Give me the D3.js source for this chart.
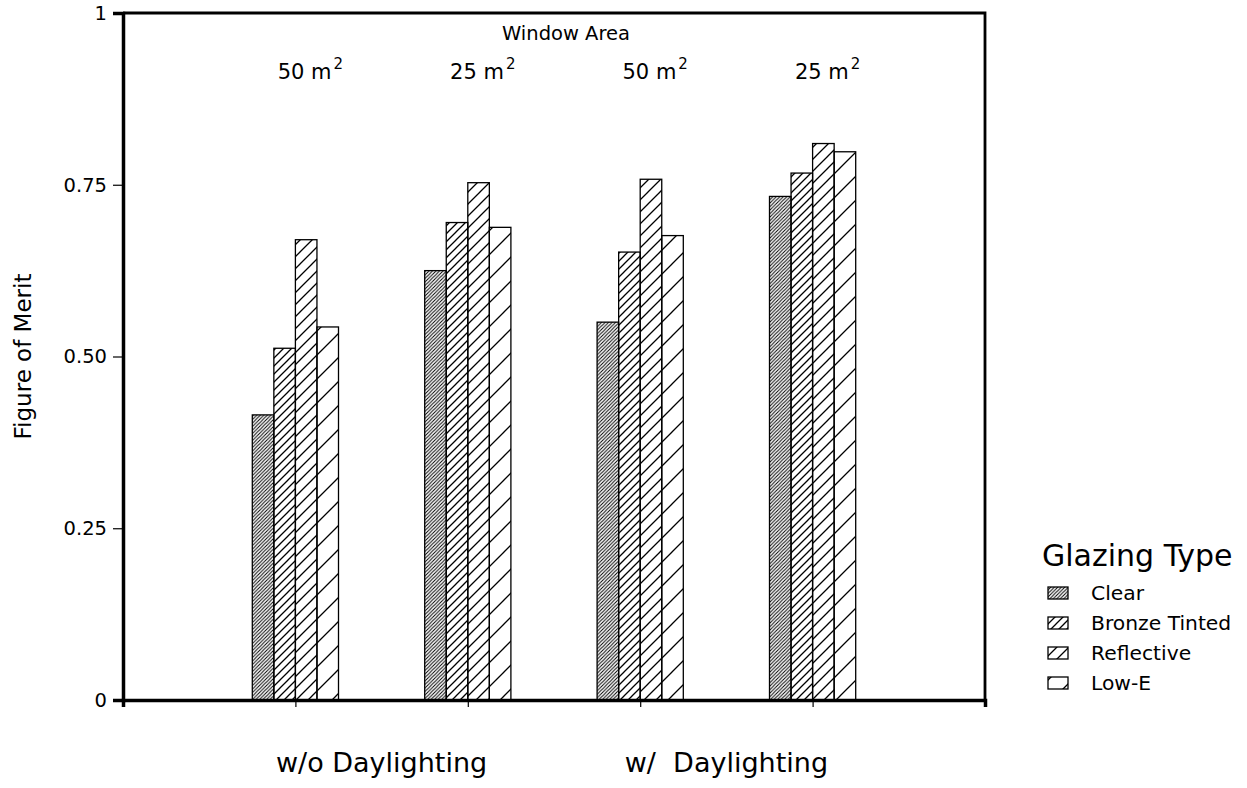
<!DOCTYPE html>
<html>
<head>
<meta charset="utf-8">
<script src="https://cdn.jsdelivr.net/npm/d3@7"></script>
<style>
  body { margin: 0; background: #fff; }
  svg { font-family: "DejaVu Sans", sans-serif; }
</style>
</head>
<body>
<script>
// data
const glazing = ["Clear", "Bronze Tinted", "Reflective", "Low-E"];
const windowArea = ["50", "25", "50", "25"];
const daylighting = ["w/o Daylighting", "w/  Daylighting"];
const clear = [0.415, 0.625, 0.550, 0.733];
const bronze = [0.512, 0.695, 0.652, 0.767];
const reflective = [0.670, 0.753, 0.758, 0.810];
const lowE = [0.543, 0.688, 0.676, 0.798];
const yTicks = [0, 0.25, 0.5, 0.75, 1];

const w = 1247;
const h = 788;
const padL = 123, padR = 985, padT = 13, padB = 700;

const series = [clear, bronze, reflective, lowE];
const spacing = [3.5, 8, 12, 24];

const svg = d3.select("body")
              .append("svg")
              .attr("width", w)
              .attr("height", h);

// hatch patterns
const defs = svg.append("defs");
spacing.forEach((s, i) => {
  defs.append("pattern")
      .attr("id", "hatch" + i)
      .attr("patternUnits", "userSpaceOnUse")
      .attr("width", s)
      .attr("height", s)
      .append("path")
      .attr("d", "M0," + s + " L" + s + ",0 M" + (-1) + ",1 L1,-1 M" + (s - 1) + "," + (s + 1) + " L" + (s + 1) + "," + (s - 1))
      .attr("stroke", "#000")
      .attr("stroke-width", i == 0 ? 1 : 1.3);
});

const xScale = d3.scaleLinear()
                 .domain([0, 5])
                 .range([padL, padR]);

const inner = d3.scaleBand()
                .domain(glazing)
                .range([-0.25, 0.25]);

const yScale = d3.scaleLinear()
                 .domain([0, 1])
                 .range([padB, padT]);

// bars
const bars = [];
windowArea.forEach((a, g) => {
  glazing.forEach((t, k) => bars.push({g: g, k: k, type: t, v: series[k][g]}));
});

svg.append("g")
   .selectAll("rect")
   .data(bars)
   .enter()
   .append("rect")
   .attr("x", d => xScale(d.g + 1 + inner(d.type)))
   .attr("y", d => yScale(d.v))
   .attr("width", xScale(inner.bandwidth()) - xScale(0))
   .attr("height", d => yScale(0) - yScale(d.v))
   .attr("fill", d => "url(#hatch" + d.k + ")")
   .attr("stroke", "#000")
   .attr("stroke-width", 1.3);

// frame
svg.append("path")
   .attr("d", "M" + padL + "," + padT + " H" + padR + " V" + padB)
   .attr("fill", "none")
   .attr("stroke", "#000")
   .attr("stroke-width", 2.8);

// axes
const yAxis = d3.axisLeft(yScale)
                .tickValues(yTicks)
                .tickSize(10)
                .tickPadding(6)
                .tickFormat(d => (d == 0 || d == 1) ? d3.format("d")(d) : d3.format(".2f")(d));

const xAxis = d3.axisBottom(xScale)
                .tickValues([1, 2, 3, 4])
                .tickSize(7)
                .tickFormat("");

const ya = svg.append("g")
   .attr("transform", "translate(" + padL + ",0)")
   .call(yAxis);
ya.select(".domain").attr("stroke-width", 3.5);
ya.selectAll("text").attr("font-size", 19.5).attr("font-family", "DejaVu Sans").attr("fill", "#000");
ya.selectAll("line").attr("stroke-width", 1.2);

const xa = svg.append("g")
   .attr("transform", "translate(0," + padB + ")")
   .call(xAxis);
xa.select(".domain").attr("stroke-width", 3.5);
xa.selectAll("line").attr("stroke-width", 1.2);

// labels
svg.append("text")
   .attr("transform", "translate(31," + yScale(0.5) + ") rotate(-90)")
   .attr("text-anchor", "middle")
   .attr("font-size", 23)
   .text("Figure of Merit");

svg.append("text")
   .attr("x", xScale(2.5) + 12)
   .attr("y", 40)
   .attr("text-anchor", "middle")
   .attr("font-size", 19.5)
   .text("Window Area");

windowArea.forEach((a, g) => {
  const t = svg.append("text")
     .attr("x", xScale(g + 1) + 15)
     .attr("y", 79)
     .attr("text-anchor", "middle")
     .attr("font-size", 21);
  t.append("tspan").text(a + " m");
  t.append("tspan").attr("dx", 2).attr("dy", -10).attr("font-size", 15).text("2");
});

daylighting.forEach((d, i) => {
  svg.append("text")
     .attr("x", xScale(1.5 + 2 * i))
     .attr("y", 772)
     .attr("text-anchor", "middle")
     .attr("font-size", 27)
     .style("white-space", "pre")
     .text(d);
});

// legend
const legend = svg.append("g");
legend.append("text")
      .attr("x", 1042)
      .attr("y", 566)
      .attr("font-size", 30)
      .text("Glazing Type");

glazing.forEach((t, k) => {
  legend.append("rect")
        .attr("x", 1048)
        .attr("y", 587 + 30 * k)
        .attr("width", 20)
        .attr("height", 12)
        .attr("fill", "url(#hatch" + k + ")")
        .attr("stroke", "#000")
        .attr("stroke-width", 1.3);
  legend.append("text")
        .attr("x", 1091)
        .attr("y", 600 + 30 * k)
        .attr("font-size", 20.3)
        .text(t);
});
</script>
</body>
</html>
